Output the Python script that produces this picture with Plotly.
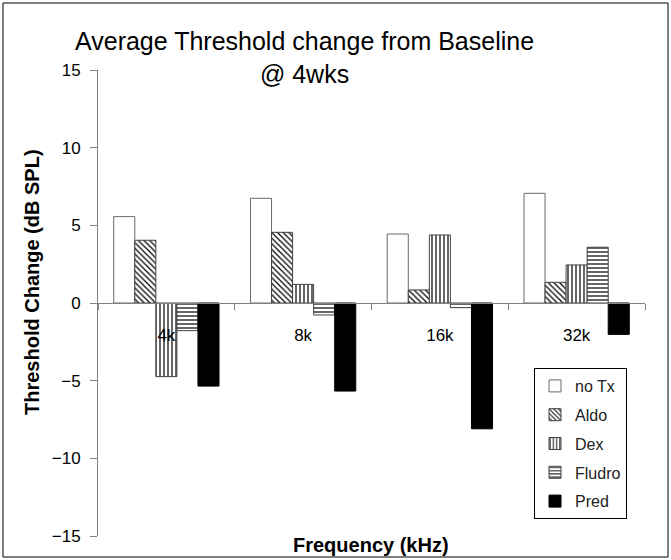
import plotly.graph_objects as go

categories = ["4k", "8k", "16k", "32k"]
series_names = ["no Tx", "Aldo", "Dex", "Fludro", "Pred"]
no_tx = [5.56, 6.74, 4.44, 7.06]
aldo = [4.04, 4.55, 0.84, 1.33]
dex = [-4.74, 1.2, 4.38, 2.45]
fludro = [-1.78, -0.77, -0.3, 3.59]
pred = [-5.35, -5.67, -8.1, -2.02]
y_ticks = [-15, -10, -5, 0, 5, 10, 15]

values = [no_tx, aldo, dex, fludro, pred]
shapes_pat = ["", "\\", "|", "-", ""]
fills = ["white", "white", "white", "white", "black"]
outlines = ["#6a6a6a", "#404040", "#404040", "#404040", "black"]

FONT = "Arial, Liberation Sans, sans-serif"

# plot-area pixel geometry
W, H = 671, 560
L, R, T, B = 98, 26, 70, 24
PW, PH = W - L - R, H - T - B


def px_x(px):
    return (px - L) / PW


def px_y(py):
    return (H - B - py) / PH


fig = go.Figure()
for i, (name, vals) in enumerate(zip(series_names, values)):
    marker = dict(color=fills[i], line=dict(color=outlines[i], width=1))
    if shapes_pat[i]:
        marker["pattern"] = dict(shape=shapes_pat[i], fgcolor="black", bgcolor="white",
                                 size=4, solidity=0.3, fillmode="replace")
    fig.add_trace(go.Bar(x=categories, y=vals, name=name, marker=marker,
                         legendgroup=name))

fig.update_layout(
    width=W, height=H,
    margin=dict(l=L, r=R, t=T, b=B),
    paper_bgcolor="white", plot_bgcolor="white",
    font=dict(family=FONT, color="black", size=17),
    barmode="group", bargap=0.23, bargroupgap=0,
    showlegend=True,
    legend=dict(x=px_x(534), y=px_y(368), xanchor="left", yanchor="top",
                bordercolor="black", borderwidth=1, bgcolor="white",
                font=dict(size=16, family=FONT, color="#222"),
                tracegroupgap=5, traceorder="grouped"),
    xaxis=dict(anchor="free", position=0.5, showline=True, linecolor="#808080",
               linewidth=1, ticks="outside", tickson="boundaries", ticklen=6,
               tickcolor="#808080", showgrid=False, ticklabelstandoff=17,
               tickfont=dict(size=17)),
    yaxis=dict(range=[-15, 15], tickvals=y_ticks, showline=True, linecolor="#808080",
               linewidth=1, ticks="outside", ticklen=7, tickcolor="#808080",
               showgrid=False, zeroline=False, tickfont=dict(size=17),
               ticklabelstandoff=6),
    annotations=[
        dict(text="Average Threshold change from Baseline<br>@ 4wks", xref="paper",
             yref="paper", x=px_x(304), y=px_y(58), xanchor="center", yanchor="middle",
             showarrow=False, font=dict(size=25, family=FONT)),
        dict(text="<b>Frequency (kHz)</b>", xref="paper", yref="paper", x=px_x(371),
             y=px_y(545), xanchor="center", yanchor="middle", showarrow=False,
             font=dict(size=20, family=FONT)),
        dict(text="<b>Threshold Change (dB SPL)</b>", xref="paper", yref="paper",
             x=px_x(32), y=px_y(282), xanchor="center", yanchor="middle",
             textangle=-90, showarrow=False, font=dict(size=20, family=FONT)),
    ],
    shapes=[dict(type="rect", xref="paper", yref="paper", x0=px_x(3), x1=px_x(668),
                 y0=px_y(557), y1=px_y(3), line=dict(color="black", width=1),
                 layer="above")],
)

fig.write_html("out.html", config={"displayModeBar": False},
               post_script="document.body.style.margin='0';")
